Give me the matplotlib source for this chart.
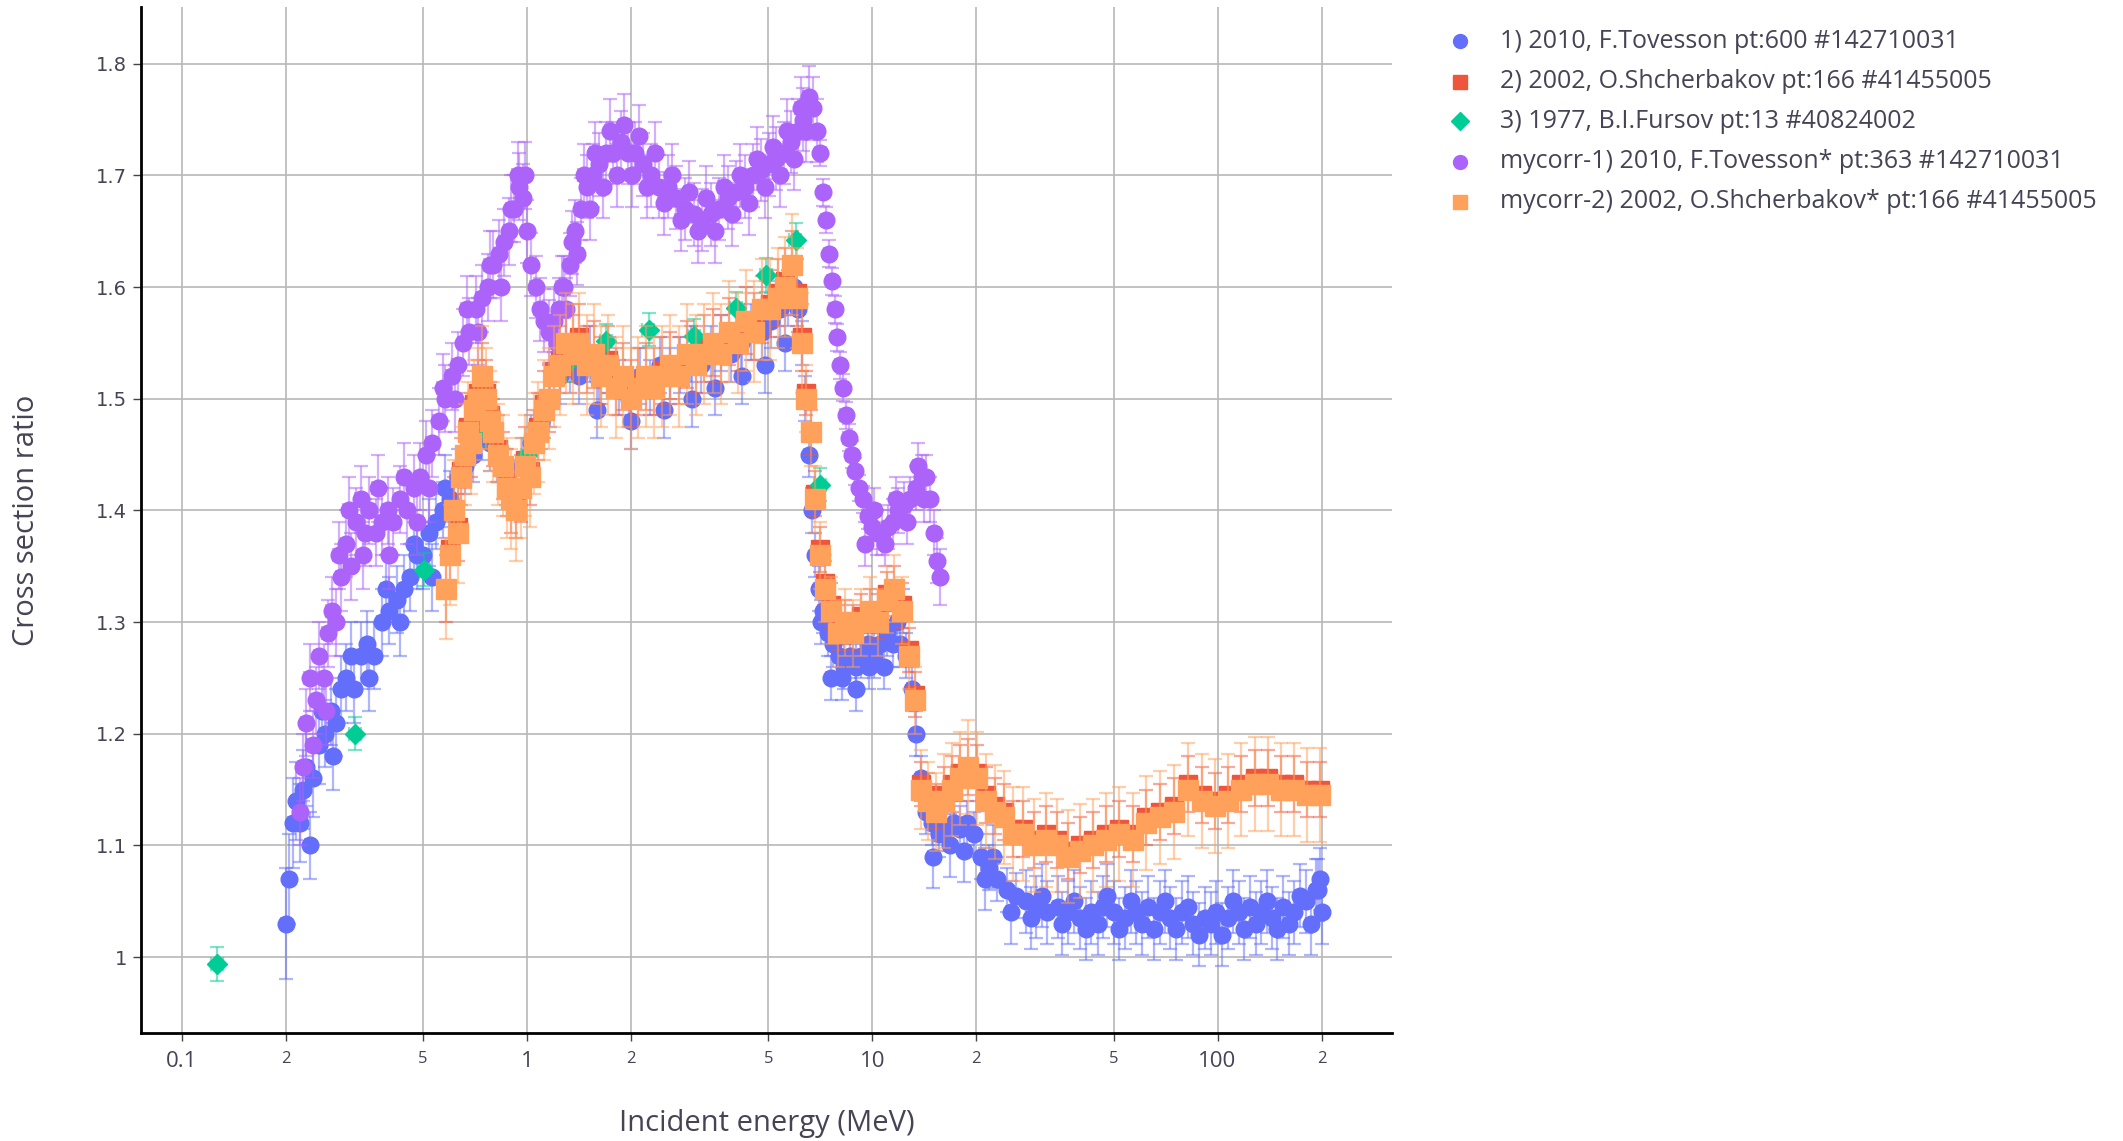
import matplotlib

matplotlib.use("Agg")
import matplotlib.pyplot as plt
from matplotlib.lines import Line2D
import numpy as np

W, H = 2123, 1141
TXT = "#444455"

# 1) 2010, F.Tovesson
tov_e = [0.200, 0.205, 0.210, 0.215, 0.220, 0.225, 0.230, 0.240, 0.250, 0.260,
         0.270, 0.280, 0.290, 0.300, 0.315, 0.330, 0.345, 0.360, 0.380, 0.400,
         0.420, 0.440, 0.460, 0.480, 0.500, 0.520, 0.545, 0.570, 0.600, 0.630,
         0.660, 0.700, 0.740, 0.780, 0.820, 0.870, 0.920, 0.970, 1.03, 1.10,
         1.17, 1.25, 1.33, 1.42, 1.52, 1.62, 1.73, 1.85, 1.98, 2.12,
         2.27, 2.43, 2.60, 2.78, 2.98, 3.19, 3.41, 3.65, 3.91, 4.18,
         4.47, 4.78, 5.10, 5.40, 5.70, 5.95, 6.10, 6.25, 6.40, 6.55,
         6.70, 6.85, 7.00, 7.20, 7.45, 7.70, 8.00, 8.30, 8.60, 8.95,
         9.30, 9.70, 10.1, 10.5, 11.0, 11.5, 12.0, 12.5, 13.0, 13.4,
         13.8, 14.3, 14.9, 15.6, 16.4, 17.2, 18.0, 18.8, 19.7, 20.7,
         21.8, 23.0, 24.5, 26.0, 27.8, 29.8, 32.0, 34.5, 37.0, 40.0,
         43.0, 46.5, 50.0, 54.0, 58.0, 63.0, 68.0, 73.0, 79.0, 85.0,
         92.0, 99.0, 107, 115, 124, 134, 144, 155, 167, 180,
         193, 198, 200]
tov_y = [1.03, 1.07, 1.12, 1.14, 1.12, 1.15, 1.17, 1.16, 1.19, 1.20,
         1.22, 1.21, 1.24, 1.25, 1.24, 1.27, 1.28, 1.27, 1.30, 1.31,
         1.32, 1.33, 1.34, 1.36, 1.36, 1.38, 1.39, 1.40, 1.41, 1.43,
         1.44, 1.45, 1.47, 1.46, 1.45, 1.43, 1.42, 1.44, 1.46, 1.48,
         1.50, 1.52, 1.53, 1.52, 1.54, 1.52, 1.53, 1.51, 1.50, 1.52,
         1.51, 1.53, 1.52, 1.53, 1.54, 1.53, 1.54, 1.55, 1.54, 1.55,
         1.56, 1.56, 1.57, 1.58, 1.59, 1.60, 1.58, 1.55, 1.50, 1.45,
         1.40, 1.36, 1.33, 1.31, 1.29, 1.28, 1.27, 1.26, 1.27, 1.26,
         1.27, 1.28, 1.27, 1.28, 1.29, 1.28, 1.28, 1.27, 1.24, 1.20,
         1.16, 1.13, 1.12, 1.11, 1.115, 1.12, 1.115, 1.12, 1.11, 1.09,
         1.08, 1.07, 1.06, 1.055, 1.05, 1.045, 1.04, 1.045, 1.04, 1.035,
         1.04, 1.045, 1.04, 1.035, 1.04, 1.045, 1.04, 1.035, 1.04, 1.03,
         1.035, 1.04, 1.035, 1.04, 1.045, 1.04, 1.035, 1.045, 1.04, 1.05,
         1.06, 1.07, 1.04]
tov_dy = ([0.05, 0.04, 0.04] + [0.035] * 6 + [0.03] * 17 + [0.025] * 40
          + [0.02] * 38 + [0.028] * 29)
# further Tovesson points (scatter around the main trend)
tov_e2 = [0.235, 0.255, 0.275, 0.31, 0.35, 0.39, 0.43, 0.47, 0.53, 0.58,
          1.6, 2.0, 2.5, 3.0, 3.5, 4.2, 4.9, 5.6,
          7.1, 7.6, 8.2, 9.0, 9.8, 10.8, 11.8, 12.3,
          15.0, 16.8, 18.4, 21.2, 22.4, 25.2, 28.8, 31.0, 35.5, 38.5,
          41.5, 45.0, 48.0, 52.0, 56.0, 60.5, 65.5, 70.5, 76.0, 82.0,
          88.5, 95.5, 103, 111, 119, 129, 139, 149, 161, 173,
          186, 196]
tov_y2 = [1.10, 1.22, 1.18, 1.27, 1.25, 1.33, 1.30, 1.37, 1.34, 1.42,
          1.49, 1.48, 1.49, 1.50, 1.51, 1.52, 1.53, 1.55,
          1.30, 1.25, 1.25, 1.24, 1.26, 1.26, 1.30, 1.31,
          1.09, 1.10, 1.095, 1.07, 1.09, 1.04, 1.035, 1.055, 1.03, 1.05,
          1.025, 1.03, 1.055, 1.025, 1.05, 1.03, 1.025, 1.05, 1.025, 1.045,
          1.02, 1.03, 1.02, 1.05, 1.025, 1.03, 1.05, 1.025, 1.03, 1.055,
          1.03, 1.06]
tov_dy2 = [0.03] * 10 + [0.025] * 8 + [0.02] * 8 + [0.028] * 32

# 2) 2002, O.Shcherbakov  (mycorr-2 shares the same energies)
shc_e = [0.585, 0.600, 0.615, 0.630, 0.645, 0.660, 0.675, 0.690, 0.705, 0.720,
         0.740, 0.760, 0.780, 0.800, 0.825, 0.850, 0.875, 0.900, 0.930, 0.960,
         0.990, 1.02, 1.05, 1.08, 1.12, 1.16, 1.20, 1.25, 1.30, 1.36,
         1.42, 1.49, 1.56, 1.64, 1.72, 1.81, 1.90, 2.00, 2.10, 2.21,
         2.33, 2.46, 2.60, 2.75, 2.91, 3.08, 3.26, 3.45, 3.65, 3.86,
         4.08, 4.31, 4.55, 4.80, 5.06, 5.33, 5.60, 5.85, 6.05, 6.25,
         6.45, 6.65, 6.85, 7.05, 7.30, 7.60, 7.95, 8.35, 8.80, 9.30,
         9.85, 10.4, 11.0, 11.6, 12.2, 12.8, 13.3, 13.8, 14.5, 15.3,
         16.1, 17.0, 18.0, 19.0, 20.1, 21.3, 22.6, 24.0, 25.6, 27.4,
         29.5, 31.8, 34.3, 37.0, 40.0, 43.5, 47.5, 52.0, 57.0, 62.0,
         68.0, 75.0, 82.0, 90.0, 98.0, 107, 117, 128, 140, 153,
         167, 182, 198]
shc_y = [1.33, 1.365, 1.40, 1.385, 1.435, 1.45, 1.475, 1.46, 1.495, 1.505,
         1.52, 1.505, 1.485, 1.47, 1.455, 1.44, 1.425, 1.41, 1.405, 1.42,
         1.445, 1.435, 1.46, 1.475, 1.495, 1.50, 1.525, 1.535, 1.55, 1.545,
         1.555, 1.535, 1.54, 1.525, 1.535, 1.515, 1.52, 1.505, 1.515, 1.52,
         1.515, 1.525, 1.53, 1.525, 1.54, 1.535, 1.545, 1.55, 1.545, 1.56,
         1.555, 1.57, 1.565, 1.58, 1.585, 1.595, 1.605, 1.62, 1.595, 1.555,
         1.505, 1.47, 1.415, 1.365, 1.335, 1.315, 1.295, 1.30, 1.295, 1.305,
         1.31, 1.305, 1.325, 1.33, 1.315, 1.275, 1.235, 1.155, 1.145, 1.135,
         1.145, 1.155, 1.165, 1.17, 1.165, 1.145, 1.135, 1.13, 1.115, 1.115,
         1.105, 1.11, 1.105, 1.095, 1.10, 1.105, 1.11, 1.115, 1.11, 1.125,
         1.13, 1.135, 1.155, 1.145, 1.14, 1.145, 1.155, 1.16, 1.16, 1.155,
         1.155, 1.15, 1.15]
shc_dy = [0.03] * 60 + [0.02] * 20 + [0.025] * 33

# mycorr-2) 2002, O.Shcherbakov*
mc2_y = [1.33, 1.36, 1.40, 1.38, 1.43, 1.45, 1.47, 1.46, 1.49, 1.50,
         1.52, 1.50, 1.48, 1.47, 1.45, 1.44, 1.42, 1.41, 1.40, 1.42,
         1.44, 1.43, 1.46, 1.47, 1.49, 1.50, 1.52, 1.53, 1.55, 1.54,
         1.55, 1.53, 1.54, 1.52, 1.53, 1.51, 1.52, 1.50, 1.51, 1.52,
         1.51, 1.52, 1.53, 1.52, 1.54, 1.53, 1.54, 1.55, 1.54, 1.56,
         1.55, 1.57, 1.56, 1.58, 1.58, 1.59, 1.60, 1.62, 1.59, 1.55,
         1.50, 1.47, 1.41, 1.36, 1.33, 1.31, 1.29, 1.30, 1.29, 1.30,
         1.31, 1.30, 1.32, 1.33, 1.31, 1.27, 1.23, 1.15, 1.14, 1.13,
         1.14, 1.15, 1.16, 1.17, 1.16, 1.14, 1.13, 1.125, 1.11, 1.11,
         1.10, 1.105, 1.10, 1.09, 1.095, 1.10, 1.105, 1.11, 1.105, 1.12,
         1.125, 1.13, 1.15, 1.14, 1.135, 1.14, 1.15, 1.155, 1.155, 1.15,
         1.15, 1.145, 1.145]
mc2_dy = [0.045] + [0.045] * 59 + [0.03] * 17 + [0.035] * 3 + [0.042] * 33

# 3) 1977, B.I.Fursov
fur_e = [0.1265, 0.318, 0.504, 0.73, 1.00, 1.30, 1.70, 2.25, 3.05, 4.04, 4.94, 6.0, 7.07]
fur_y = [0.994, 1.200, 1.347, 1.473, 1.45, 1.53, 1.552, 1.562, 1.556, 1.581, 1.611, 1.642, 1.423]
fur_dy = [0.015] * 13

# mycorr-1) 2010, F.Tovesson*
mc1_e = [0.220, 0.225, 0.230, 0.235, 0.240, 0.245, 0.250, 0.258, 0.265, 0.272,
         0.280, 0.290, 0.300, 0.310, 0.320, 0.330, 0.340, 0.350, 0.365, 0.380,
         0.395, 0.410, 0.430, 0.450, 0.470, 0.490, 0.510, 0.530, 0.555, 0.580,
         0.605, 0.630, 0.655, 0.680, 0.710, 0.740, 0.770, 0.800, 0.830, 0.860,
         0.890, 0.920, 0.950, 0.975, 1.00, 1.03, 1.06, 1.09, 1.12, 1.16,
         1.20, 1.24, 1.28, 1.33, 1.38, 1.43, 1.49, 1.55, 1.62, 1.70,
         1.78, 1.87, 1.96, 2.06, 2.17, 2.29, 2.42, 2.56, 2.71, 2.87,
         3.04, 3.22, 3.41, 3.61, 3.82, 4.04, 4.27, 4.51, 4.76, 5.02,
         5.28, 5.55, 5.82, 6.08, 6.32, 6.55, 6.75, 6.92, 7.08, 7.22,
         7.36, 7.50, 7.64, 7.78, 7.92, 8.07, 8.22, 8.38, 8.54, 8.72,
         8.92, 9.15, 9.40, 9.70, 10.0, 10.3, 10.7, 11.1, 11.5, 11.9,
         12.4, 12.9, 13.4, 13.9, 14.3, 14.7, 15.1, 15.4, 15.7]
mc1_y = [1.13, 1.17, 1.21, 1.25, 1.19, 1.23, 1.27, 1.25, 1.29, 1.31,
         1.30, 1.34, 1.37, 1.35, 1.39, 1.41, 1.38, 1.40, 1.38, 1.39,
         1.40, 1.39, 1.41, 1.40, 1.42, 1.43, 1.45, 1.46, 1.48, 1.50,
         1.52, 1.53, 1.55, 1.56, 1.58, 1.59, 1.60, 1.62, 1.63, 1.64,
         1.65, 1.67, 1.69, 1.68, 1.65, 1.62, 1.60, 1.58, 1.57, 1.56,
         1.57, 1.58, 1.60, 1.62, 1.65, 1.67, 1.69, 1.70, 1.71, 1.72,
         1.72, 1.73, 1.72, 1.72, 1.71, 1.70, 1.69, 1.69, 1.68, 1.67,
         1.665, 1.66, 1.665, 1.67, 1.68, 1.685, 1.69, 1.70, 1.705, 1.71,
         1.715, 1.72, 1.73, 1.74, 1.75, 1.77, 1.76, 1.74, 1.72, 1.685,
         1.66, 1.63, 1.605, 1.58, 1.555, 1.53, 1.51, 1.485, 1.465, 1.45,
         1.435, 1.42, 1.41, 1.395, 1.385, 1.38, 1.38, 1.385, 1.39, 1.40,
         1.405, 1.41, 1.42, 1.43, 1.43, 1.41, 1.38, 1.355, 1.34]
mc1_dy = [0.03] * 44 + [0.028] * 44 + [0.012] * 16 + [0.02] * 14 + [0.025]
# further corrected Tovesson points (scatter around the main trend)
mc1_e2 = [0.262, 0.285, 0.305, 0.335, 0.37, 0.40, 0.44, 0.48,
          0.52, 0.57, 0.62, 0.67, 0.72, 0.78, 0.84, 0.90, 0.94, 0.985,
          1.22, 1.26, 1.30, 1.35, 1.40, 1.46, 1.52, 1.58, 1.66, 1.74,
          1.82, 1.91, 2.01, 2.11, 2.23, 2.35, 2.49, 2.63, 2.79, 2.95,
          3.13, 3.31, 3.51, 3.71, 3.93, 4.15, 4.39, 4.63, 4.89, 5.15,
          5.42, 5.68, 5.95, 6.20, 6.44,
          9.55, 10.15, 10.9, 11.7, 12.6, 13.6, 14.1]
mc1_y2 = [1.22, 1.36, 1.40, 1.36, 1.42, 1.36, 1.43, 1.39,
          1.42, 1.51, 1.50, 1.58, 1.56, 1.62, 1.60, 1.67, 1.70, 1.70,
          1.55, 1.60, 1.58, 1.64, 1.63, 1.70, 1.67, 1.72, 1.69, 1.74,
          1.70, 1.745, 1.70, 1.735, 1.69, 1.72, 1.675, 1.70, 1.66, 1.685,
          1.65, 1.68, 1.65, 1.69, 1.665, 1.70, 1.675, 1.715, 1.69, 1.725,
          1.70, 1.74, 1.715, 1.76, 1.74,
          1.37, 1.40, 1.37, 1.41, 1.39, 1.44, 1.41]
mc1_dy2 = [0.03] * 18 + [0.028] * 35 + [0.02] * 7

labels = [
    "1) 2010, F.Tovesson pt:600 #142710031",
    "2) 2002, O.Shcherbakov pt:166 #41455005",
    "3) 1977, B.I.Fursov pt:13 #40824002",
    "mycorr-1) 2010, F.Tovesson* pt:363 #142710031",
    "mycorr-2) 2002, O.Shcherbakov* pt:166 #41455005",
]
colors = ["#636efa", "#ef553b", "#00cc96", "#ab63fa", "#ffa15a"]
markers = ["o", "s", "D", "o", "s"]

x_ticks = [0.1, 0.2, 0.5, 1, 2, 5, 10, 20, 50, 100, 200]
x_ticklabels = ["0.1", "2", "5", "1", "2", "5", "10", "2", "5", "100", "2"]
y_ticks = [1.0, 1.1, 1.2, 1.3, 1.4, 1.5, 1.6, 1.7, 1.8]
y_ticklabels = ["1", "1.1", "1.2", "1.3", "1.4", "1.5", "1.6", "1.7", "1.8"]


def draw(ax, e, y, dy, xrel, color, marker, ms, z):
    e = np.asarray(e, dtype=float)
    y = np.asarray(y, dtype=float)
    ax.errorbar(e, y, yerr=dy, xerr=e * xrel, fmt="none", ecolor=color,
                elinewidth=1.6, capsize=5, capthick=1.6, alpha=0.5, zorder=z)
    ax.plot(e, y, ls="none", marker=marker, ms=ms, color=color, mec=color,
            zorder=z + 0.5)


def main() -> None:
    plt.rcParams["font.family"] = ["Open Sans", "DejaVu Sans"]
    fig = plt.figure(figsize=(W / 100, H / 100), dpi=100)
    ax = fig.add_axes([140.8 / W, 108 / H, (1392 - 140.8) / W, (1033 - 6.8) / H])

    draw(ax, tov_e + tov_e2, tov_y + tov_y2, tov_dy + tov_dy2, 0.03,
         colors[0], "o", 12, 2)
    draw(ax, shc_e, shc_y, shc_dy, 0.04, colors[1], "s", 13, 3)
    draw(ax, fur_e, fur_y, fur_dy, 0.04, colors[2], "D", 10, 4)
    draw(ax, mc1_e + mc1_e2, mc1_y + mc1_y2, mc1_dy + mc1_dy2, 0.035,
         colors[3], "o", 12, 5)
    draw(ax, shc_e, mc2_y, mc2_dy, 0.05, colors[4], "s", 14, 6)

    ax.set_xscale("log")
    ax.set_xlim(0.0762, 320)
    ax.set_ylim(0.932, 1.851)
    ax.set_xticks(x_ticks)
    ax.set_xticklabels(x_ticklabels)
    ax.xaxis.set_minor_locator(matplotlib.ticker.NullLocator())
    ax.set_yticks(y_ticks)
    ax.set_yticklabels(y_ticklabels)
    for lab, txt in zip(ax.get_xticklabels(), x_ticklabels):
        lab.set_fontsize(16 if txt in ("0.1", "1", "10", "100") else 12)
    for lab in ax.get_yticklabels():
        lab.set_fontfamily("DejaVu Sans")
        lab.set_fontsize(14)
    ax.tick_params(axis="both", direction="out", length=6, width=1,
                   color="#444444", labelcolor=TXT)
    ax.tick_params(axis="x", pad=7)
    ax.tick_params(axis="y", pad=4)

    ax.grid(True, color="#b8b8b8", lw=1.2)
    ax.set_axisbelow(True)
    for side in ("top", "right"):
        ax.spines[side].set_visible(False)
    for side in ("left", "bottom"):
        ax.spines[side].set_color("black")
        ax.spines[side].set_linewidth(2)

    ax.set_xlabel("Incident energy (MeV)", fontsize=21, color=TXT)
    ax.xaxis.set_label_coords(0.5, -(1124 - 1033) / (1033 - 6.8))
    ax.xaxis.label.set_va("center")
    ax.set_ylabel("Cross section ratio", fontsize=21, color=TXT)
    ax.yaxis.set_label_coords(-(140.8 - 27) / (1392 - 140.8), 0.5)
    ax.yaxis.label.set_va("center")

    leg_rows = [41, 81.5, 121, 161.5, 202]
    for lab, col, mk, ypx in zip(labels, colors, markers, leg_rows):
        yf = 1 - ypx / H
        fig.add_artist(Line2D([1460 / W], [yf], transform=fig.transFigure,
                              ls="none", marker=mk, color=col,
                              ms=9 if mk == "D" else 10))
        fig.text(1500 / W, yf, lab, ha="left", va="center", fontsize=18,
                 color=TXT)

    fig.savefig("out.png", dpi=100)


if __name__ == "__main__":
    main()
